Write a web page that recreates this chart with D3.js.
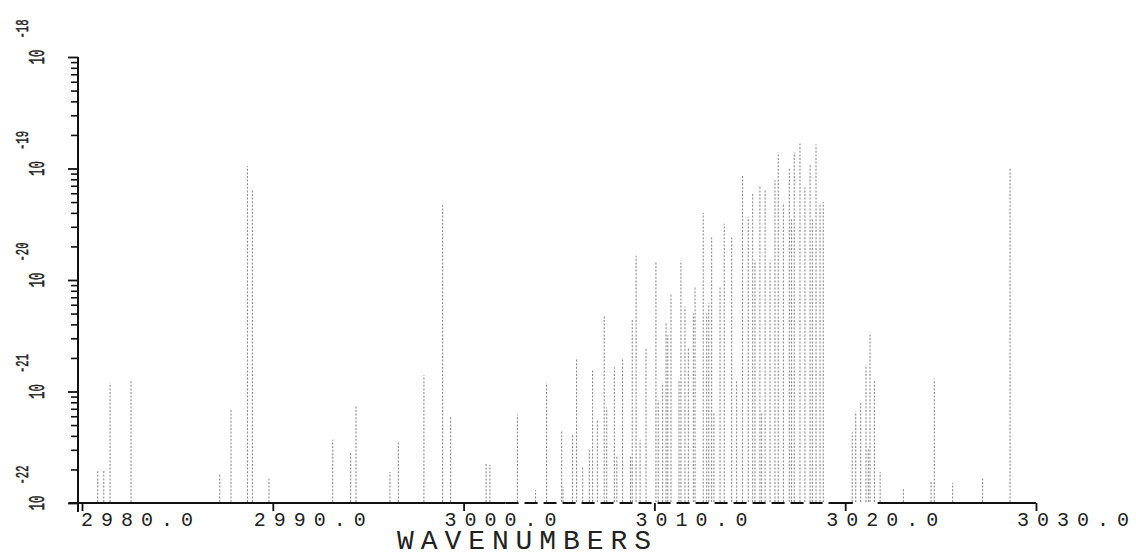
<!DOCTYPE html>
<html>
<head>
<meta charset="utf-8">
<script src="https://cdn.jsdelivr.net/npm/d3@7"></script>
<style>
  html, body { margin: 0; padding: 0; background: #fff; }
  svg { display: block; }
  .lbl { font-family: "Liberation Mono", "DejaVu Sans Mono", monospace; fill: #222; }
  .ylbl { stroke: #222; stroke-width: 0.5; }
</style>
</head>
<body>
<svg id="chart"></svg>
<script>
// line positions (cm-1) and intensities
const wavenumbers = [
  2980.82, 2981.14, 2981.47, 2982.57, 2987.22, 2987.81, 2988.67, 2988.93, 2989.80,
  2993.14, 2994.08, 2994.36, 2996.14, 2996.58, 2997.92, 2998.90, 2999.32,
  3001.18, 3001.38, 3002.82, 3003.77, 3004.35, 3005.14, 3005.21, 3005.71, 3005.92,
  3006.24, 3006.59, 3006.76, 3007.01, 3007.37, 3007.50, 3007.90, 3008.03, 3008.33,
  3008.75, 3008.84, 3009.04, 3009.25, 3009.56, 3010.08, 3010.20, 3010.43, 3010.61,
  3010.70, 3010.87, 3011.29, 3011.39, 3011.60, 3011.78, 3012.04, 3012.13, 3012.56,
  3012.74, 3012.85, 3013.00, 3013.12, 3013.44, 3013.66, 3014.05, 3014.31, 3014.62,
  3014.92, 3015.15, 3015.27, 3015.53, 3015.62, 3015.80, 3016.06, 3016.32, 3016.49,
  3016.76, 3017.07, 3017.19, 3017.33, 3017.63, 3017.89, 3018.16, 3018.28, 3018.47,
  3018.68, 3018.85, 3020.37, 3020.55, 3020.81, 3021.09, 3021.21, 3021.30, 3021.53,
  3021.83, 3023.05, 3024.50, 3024.67, 3025.63, 3027.20, 3028.64
];
const intensities = [
  2.0e-22, 2.0e-22, 1.2e-21, 1.26e-21, 1.8e-22, 6.9e-22, 1.05e-19, 6.6e-20, 1.65e-22,
  3.7e-22, 2.8e-22, 7.6e-22, 1.9e-22, 3.5e-22, 1.4e-21, 4.7e-20, 5.9e-22,
  2.3e-22, 2.2e-22, 6.2e-22, 1.3e-22, 1.2e-21, 4.4e-22, 1.4e-22, 4.1e-22, 2.0e-21,
  2.1e-22, 3.0e-22, 1.55e-21, 5.5e-22, 4.7e-21, 7.2e-22, 1.65e-21, 2.6e-22, 2.0e-21,
  2.6e-22, 4.4e-21, 1.65e-20, 3.7e-22, 2.45e-21, 1.45e-20, 8.3e-22, 1.2e-21, 4.1e-21,
  3.2e-21, 7.6e-21, 1.26e-21, 1.5e-20, 5.8e-21, 2.5e-21, 5.0e-21, 8.7e-21, 4.0e-20,
  5.0e-21, 6.2e-21, 2.4e-20, 6.5e-22, 8.7e-21, 3.2e-20, 2.4e-20, 1.26e-21, 8.7e-20,
  3.7e-20, 6.0e-20, 1.5e-20, 7.1e-20, 6.5e-22, 6.5e-20, 1.5e-20, 7.9e-20, 1.4e-19,
  4.9e-20, 1.0e-19, 3.5e-20, 1.4e-19, 1.7e-19, 6.8e-20, 1.07e-19, 3.5e-20, 1.65e-19,
  4.9e-20, 5.0e-20, 4.3e-22, 6.6e-22, 7.9e-22, 1.74e-21, 3.1e-22, 3.4e-21, 1.26e-21,
  1.9e-22, 1.35e-22, 1.6e-22, 1.3e-21, 1.5e-22, 1.65e-22, 1.02e-19
];
const xTicks = [2980, 2990, 3000, 3010, 3020, 3030];
const xTickLabels = ["2980.0", "2990.0", "3000.0", "3010.0", "3020.0", "3030.0"];
const yDecades = [-22, -21, -20, -19, -18];
const yDecadeLabels = ["-22", "-21", "-20", "-19", "-18"];
// pieces of the drawn baseline (the plotter left gaps in it)
const baseSolid = [[2979.3, 3002.2], [3019.2, 3020.4], [3021.7, 3030]];
const baseDashed = [[3002.2, 3019.2]];

const width = 1136;
const height = 558;

const svg = d3.select("#chart")
  .attr("width", width)
  .attr("height", height);

const x = d3.scaleLinear().domain([2980, 3030]).range([82, 1036]);
const y = d3.scaleLog().domain([1e-22, 1e-18]).range([503, 57]);
const axisX = 78;

// spectral lines
const lines = wavenumbers.map((w, i) => ({ w: w, s: intensities[i] }));
svg.append("g")
  .selectAll("line")
  .data(lines)
  .enter()
  .append("line")
  .attr("x1", d => x(d.w))
  .attr("x2", d => x(d.w))
  .attr("y1", y(1e-22) - 1)
  .attr("y2", d => y(d.s))
  .attr("stroke", "#8c8c8c")
  .attr("stroke-width", 1.1)
  .attr("stroke-dasharray", "2,1.6");

// y axis, minor and major ticks
const minor = [];
const major = [];
yDecades.forEach(e => {
  major.push(Math.pow(10, e));
  if (e < -18) for (let k = 2; k <= 9; k++) minor.push(k * Math.pow(10, e));
});

svg.append("g")
  .attr("transform", `translate(${axisX},0)`)
  .call(d3.axisLeft(y).tickValues(minor).tickSize(7).tickSizeOuter(0).tickFormat(""))
  .call(g => g.select(".domain").remove())
  .call(g => g.selectAll(".tick line").attr("stroke", "#111").attr("stroke-width", 1.6));

svg.append("g")
  .attr("transform", `translate(${axisX},0)`)
  .call(d3.axisLeft(y).tickValues(major).tickSize(10).tickSizeOuter(0).tickFormat(""))
  .call(g => g.select(".domain").remove())
  .call(g => g.selectAll(".tick line").attr("stroke", "#111").attr("stroke-width", 1.8));

svg.append("line")
  .attr("x1", axisX).attr("x2", axisX)
  .attr("y1", y(1e-18)).attr("y2", y(1e-22) + 9)
  .attr("stroke", "#111").attr("stroke-width", 2);

// y labels, rotated "10" with exponent
yDecades.forEach((e, i) => {
  const ty = y(Math.pow(10, e));
  svg.append("text")
    .attr("class", "lbl ylbl")
    .attr("transform", `translate(44,${ty}) rotate(-90)`)
    .attr("text-anchor", "middle")
    .attr("font-size", 22)
    .attr("textLength", 15)
    .attr("lengthAdjust", "spacingAndGlyphs")
    .text("10");
  svg.append("text")
    .attr("class", "lbl ylbl")
    .attr("transform", `translate(28,${ty - 28}) rotate(-90)`)
    .attr("text-anchor", "middle")
    .attr("font-size", 18)
    .attr("textLength", 19)
    .attr("lengthAdjust", "spacingAndGlyphs")
    .text(yDecadeLabels[i]);
});

// x baseline
const base = svg.append("g").attr("stroke", "#111").attr("stroke-width", 2);
baseSolid.forEach(s => {
  base.append("line")
    .attr("x1", x(s[0])).attr("x2", x(s[1]))
    .attr("y1", y(1e-22)).attr("y2", y(1e-22));
});
baseDashed.forEach(s => {
  base.append("line")
    .attr("x1", x(s[0])).attr("x2", x(s[1]))
    .attr("y1", y(1e-22)).attr("y2", y(1e-22))
    .attr("stroke-dasharray", "13,6");
});

svg.append("g")
  .attr("transform", `translate(0,${y(1e-22)})`)
  .call(d3.axisBottom(x).tickValues(xTicks).tickSize(8).tickSizeOuter(0).tickFormat(""))
  .call(g => g.select(".domain").remove())
  .call(g => g.selectAll(".tick line").attr("stroke", "#111").attr("stroke-width", 1.8));

// x tick labels
svg.append("g")
  .selectAll("text")
  .data(xTicks)
  .enter()
  .append("text")
  .attr("class", "lbl")
  .attr("x", (d, i) => i === 0 ? x(d) - 1 : x(d) - 19)
  .attr("y", 526)
  .attr("font-size", 20)
  .attr("textLength", 112)
  .attr("lengthAdjust", "spacing")
  .text((d, i) => xTickLabels[i]);

// axis title
svg.append("text")
  .attr("class", "lbl")
  .attr("x", 397)
  .attr("y", 549)
  .attr("font-size", 28)
  .attr("textLength", 254)
  .attr("lengthAdjust", "spacing")
  .text("WAVENUMBERS");
</script>
</body>
</html>
